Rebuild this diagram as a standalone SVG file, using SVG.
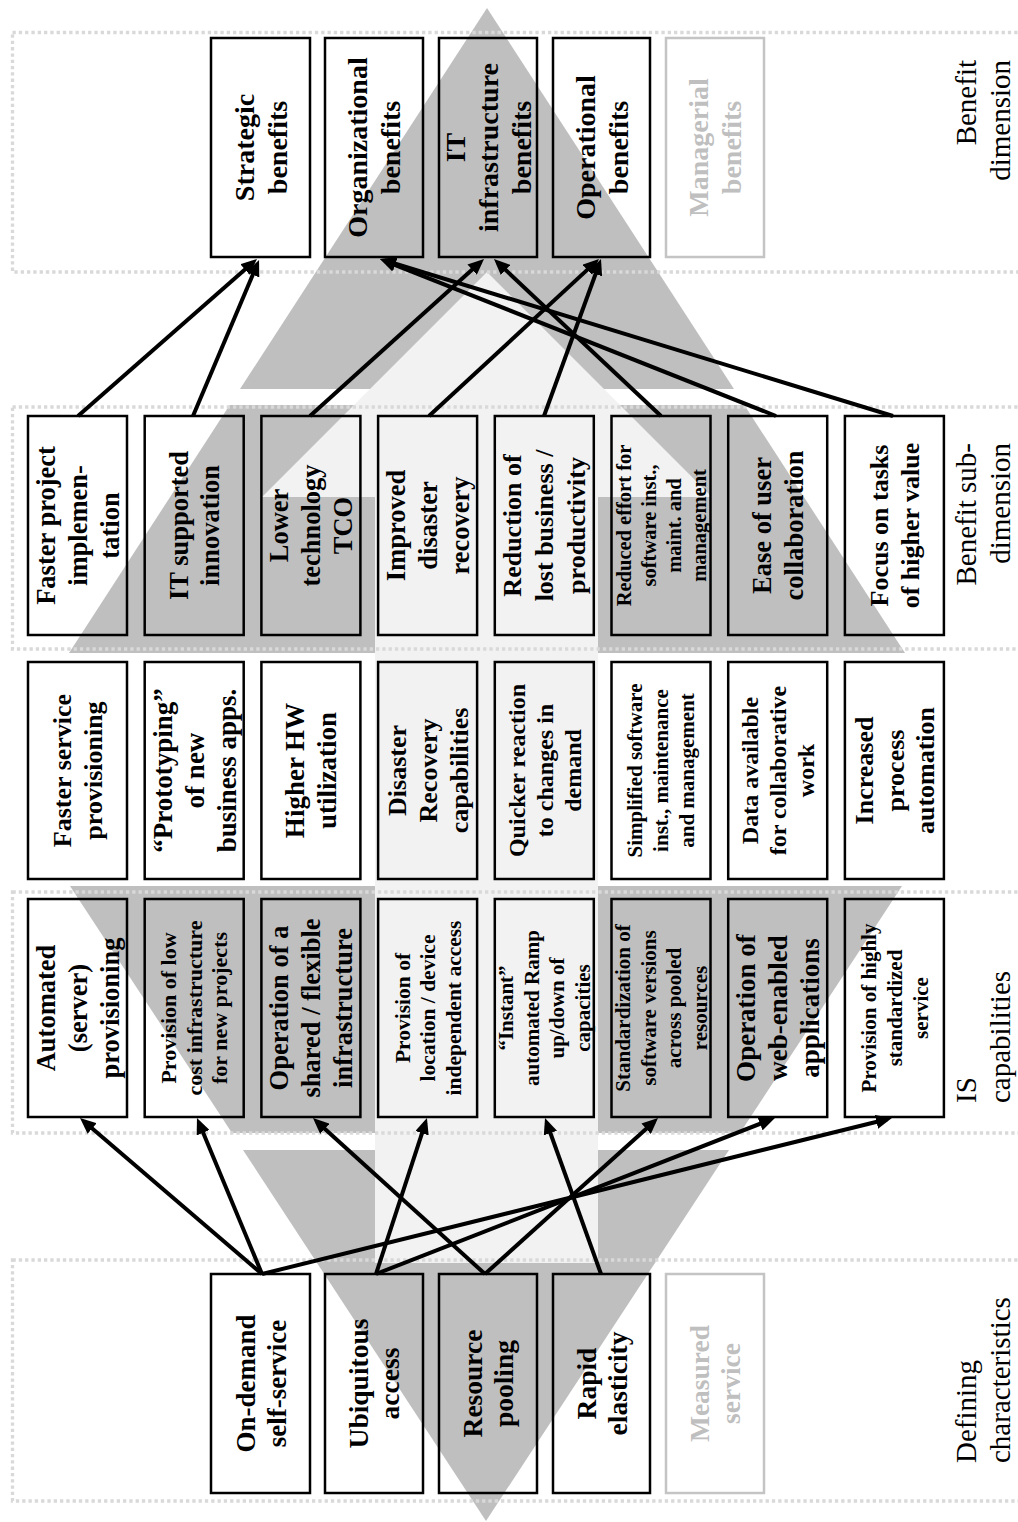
<svg xmlns="http://www.w3.org/2000/svg" width="1018" height="1522" viewBox="0 0 1018 1522">
<style>
.box{fill:none;stroke:#000;stroke-width:2.5}
.gbox{fill:none;stroke:#c4c4c4;stroke-width:2.5}
.nt{font-family:"Liberation Serif","Times New Roman",serif;font-weight:bold;fill:#000;text-anchor:middle}
.gt{fill:#bfbfbf}
.lbl{font-family:"Liberation Serif","Times New Roman",serif;font-size:29px;fill:#000}
.sec{fill:none;stroke:#d9d9d9;stroke-width:3.3;stroke-dasharray:3.3 3}
.cn{stroke:#000;stroke-width:4;fill:none;marker-end:url(#ah)}
.dark{fill:#bfbfbf}
.light{fill:#f2f2f2}
</style>
<defs>
<marker id="ah" markerUnits="userSpaceOnUse" markerWidth="16" markerHeight="14" refX="11" refY="7" orient="auto">
<path d="M0,0 L16,7 L0,14 z" fill="#000"/>
</marker>
</defs>
<rect x="0" y="0" width="1018" height="1522" fill="#fff"/>
<g id="background">
<polygon class="dark" points="487,8 734,389 240,389"/>
<polygon class="dark" points="229.7,405 744.3,405 905,653 69,653"/>
<polygon class="dark" points="70,886 902,886 740,1133 232,1133"/>
<polygon class="dark" points="243,1150 729,1150 486,1521"/>
<polygon class="light" points="487,272 712,497 598,497 598,1263 375,1263 375,497 262,497"/>
</g>
<g id="sections">
<rect class="sec" x="12.5" y="32.5" width="1020" height="239.5"/>
<rect class="sec" x="12.5" y="407" width="1020" height="242"/>
<rect class="sec" x="12.5" y="892" width="1020" height="241"/>
<rect class="sec" x="12.5" y="1260" width="1020" height="241"/>
</g>
<g id="labels">
<text class="lbl" text-anchor="end" transform="translate(0,60) rotate(-90)"><tspan x="0" y="976">Benefit</tspan><tspan x="0" y="1010">dimension</tspan></text>
<text class="lbl" text-anchor="end" transform="translate(0,443) rotate(-90)"><tspan x="0" y="976">Benefit sub-</tspan><tspan x="0" y="1010">dimension</tspan></text>
<text class="lbl" text-anchor="start" transform="translate(0,1103) rotate(-90)"><tspan x="0" y="976">IS</tspan><tspan x="0" y="1010">capabilities</tspan></text>
<text class="lbl" text-anchor="start" transform="translate(0,1463) rotate(-90)"><tspan x="0" y="976">Defining</tspan><tspan x="0" y="1010">characteristics</tspan></text>
</g>
<!-- Benefit dimension -->
<g id="strategic"><rect class="box" x="211" y="38" width="99" height="219"/>
<text class="nt" font-size="28" transform="translate(260.5,147.5) rotate(-90)"><tspan x="0" y="-6.7">Strategic</tspan><tspan x="0" y="26.3">benefits</tspan></text></g>
<g id="organizational"><rect class="box" x="325" y="38" width="98" height="219"/>
<text class="nt" font-size="28" transform="translate(374,147.5) rotate(-90)"><tspan x="0" y="-6.7">Organizational</tspan><tspan x="0" y="26.3">benefits</tspan></text></g>
<g id="itinfra"><rect class="box" x="439" y="38" width="98" height="219"/>
<text class="nt" font-size="28" transform="translate(488,147.5) rotate(-90)"><tspan x="0" y="-23.2">IT</tspan><tspan x="0" y="9.8">infrastructure</tspan><tspan x="0" y="42.8">benefits</tspan></text></g>
<g id="operational"><rect class="box" x="553" y="38" width="97" height="219"/>
<text class="nt" font-size="28" transform="translate(601.5,147.5) rotate(-90)"><tspan x="0" y="-6.7">Operational</tspan><tspan x="0" y="26.3">benefits</tspan></text></g>
<g id="managerial"><rect class="gbox" x="666" y="38" width="98" height="219"/>
<text class="nt gt" font-size="28" transform="translate(715,147.5) rotate(-90)"><tspan x="0" y="-6.7">Managerial</tspan><tspan x="0" y="26.3">benefits</tspan></text></g>
<!-- Benefit sub-dimension -->
<g id="fasterproject"><rect class="box" x="28" y="416" width="99" height="219"/>
<text class="nt" font-size="26.5" transform="translate(77.5,525.5) rotate(-90)"><tspan x="0" y="-22.7">Faster project</tspan><tspan x="0" y="9.3">implemen-</tspan><tspan x="0" y="41.3">tation</tspan></text></g>
<g id="itsupported"><rect class="box" x="144.7" y="416" width="99" height="219"/>
<text class="nt" font-size="26.5" transform="translate(194.2,525.5) rotate(-90)"><tspan x="0" y="-6.7">IT supported</tspan><tspan x="0" y="25.3">innovation</tspan></text></g>
<g id="lowertco"><rect class="box" x="261.4" y="416" width="99" height="219"/>
<text class="nt" font-size="26.5" transform="translate(310.9,525.5) rotate(-90)"><tspan x="0" y="-22.7">Lower</tspan><tspan x="0" y="9.3">technology</tspan><tspan x="0" y="41.3">TCO</tspan></text></g>
<g id="improveddr"><rect class="box" x="378.1" y="416" width="99" height="219"/>
<text class="nt" font-size="26.5" transform="translate(427.6,525.5) rotate(-90)"><tspan x="0" y="-22.7">Improved</tspan><tspan x="0" y="9.3">disaster</tspan><tspan x="0" y="41.3">recovery</tspan></text></g>
<g id="reduction"><rect class="box" x="494.8" y="416" width="99" height="219"/>
<text class="nt" font-size="26" transform="translate(544.3,525.5) rotate(-90)"><tspan x="0" y="-22.9">Reduction of</tspan><tspan x="0" y="9.1">lost business /</tspan><tspan x="0" y="41.1">productivity</tspan></text></g>
<g id="reducedeffort"><rect class="box" x="611.5" y="416" width="99" height="219"/>
<text class="nt" font-size="20.5" transform="translate(661,525.5) rotate(-90)"><tspan x="0" y="-30.3">Reduced effort for</tspan><tspan x="0" y="-5.3">software inst.,</tspan><tspan x="0" y="19.7">maint. and</tspan><tspan x="0" y="44.7">management</tspan></text></g>
<g id="easecollab"><rect class="box" x="728.2" y="416" width="99" height="219"/>
<text class="nt" font-size="26.5" transform="translate(777.7,525.5) rotate(-90)"><tspan x="0" y="-6.7">Ease of user</tspan><tspan x="0" y="25.3">collaboration</tspan></text></g>
<g id="focustasks"><rect class="box" x="844.9" y="416" width="99" height="219"/>
<text class="nt" font-size="26" transform="translate(894.4,525.5) rotate(-90)"><tspan x="0" y="-6.9">Focus on tasks</tspan><tspan x="0" y="25.1">of higher value</tspan></text></g>
<!-- Middle row -->
<g id="fasterservice"><rect class="box" x="28" y="662" width="99" height="217"/>
<text class="nt" font-size="26" transform="translate(77.5,770.5) rotate(-90)"><tspan x="0" y="-6.4">Faster service</tspan><tspan x="0" y="24.6">provisioning</tspan></text></g>
<g id="prototyping"><rect class="box" x="144.7" y="662" width="99" height="217"/>
<text class="nt" font-size="27" transform="translate(194.2,770.5) rotate(-90)"><tspan x="0" y="-22.5">“Prototyping”</tspan><tspan x="0" y="9.5">of new</tspan><tspan x="0" y="41.5">business apps.</tspan></text></g>
<g id="higherhw"><rect class="box" x="261.4" y="662" width="99" height="217"/>
<text class="nt" font-size="27" transform="translate(310.9,770.5) rotate(-90)"><tspan x="0" y="-6.5">Higher HW</tspan><tspan x="0" y="25.5">utilization</tspan></text></g>
<g id="drcap"><rect class="box" x="378.1" y="662" width="99" height="217"/>
<text class="nt" font-size="26" transform="translate(427.6,770.5) rotate(-90)"><tspan x="0" y="-21.9">Disaster</tspan><tspan x="0" y="9.1">Recovery</tspan><tspan x="0" y="40.1">capabilities</tspan></text></g>
<g id="quicker"><rect class="box" x="494.8" y="662" width="99" height="217"/>
<text class="nt" font-size="24" transform="translate(544.3,770.5) rotate(-90)"><tspan x="0" y="-19.6">Quicker reaction</tspan><tspan x="0" y="8.4">to changes in</tspan><tspan x="0" y="36.4">demand</tspan></text></g>
<g id="simplified"><rect class="box" x="611.5" y="662" width="99" height="217"/>
<text class="nt" font-size="21" transform="translate(661,770.5) rotate(-90)"><tspan x="0" y="-18.6">Simplified software</tspan><tspan x="0" y="7.4">inst., maintenance</tspan><tspan x="0" y="33.4">and management</tspan></text></g>
<g id="dataavail"><rect class="box" x="728.2" y="662" width="99" height="217"/>
<text class="nt" font-size="24" transform="translate(777.7,770.5) rotate(-90)"><tspan x="0" y="-19.6">Data available</tspan><tspan x="0" y="8.4">for collaborative</tspan><tspan x="0" y="36.4">work</tspan></text></g>
<g id="increased"><rect class="box" x="844.9" y="662" width="99" height="217"/>
<text class="nt" font-size="26" transform="translate(894.4,770.5) rotate(-90)"><tspan x="0" y="-21.9">Increased</tspan><tspan x="0" y="9.1">process</tspan><tspan x="0" y="40.1">automation</tspan></text></g>
<!-- IS capabilities -->
<g id="automated"><rect class="box" x="28" y="899" width="99" height="218"/>
<text class="nt" font-size="26.5" transform="translate(77.5,1008) rotate(-90)"><tspan x="0" y="-22.7">Automated</tspan><tspan x="0" y="9.3">(server)</tspan><tspan x="0" y="41.3">provisioning</tspan></text></g>
<g id="lowcost"><rect class="box" x="144.7" y="899" width="99" height="218"/>
<text class="nt" font-size="22" transform="translate(194.2,1008) rotate(-90)"><tspan x="0" y="-17.8">Provision of low</tspan><tspan x="0" y="7.7">cost infrastructure</tspan><tspan x="0" y="33.2">for new projects</tspan></text></g>
<g id="shared"><rect class="box" x="261.4" y="899" width="99" height="218"/>
<text class="nt" font-size="26.5" transform="translate(310.9,1008) rotate(-90)"><tspan x="0" y="-22.7">Operation of a</tspan><tspan x="0" y="9.3">shared / flexible</tspan><tspan x="0" y="41.3">infrastructure</tspan></text></g>
<g id="location"><rect class="box" x="378.1" y="899" width="99" height="218"/>
<text class="nt" font-size="21.5" transform="translate(427.6,1008) rotate(-90)"><tspan x="0" y="-18">Provision of</tspan><tspan x="0" y="7.5">location / device</tspan><tspan x="0" y="33">independent access</tspan></text></g>
<g id="instant"><rect class="box" x="494.8" y="899" width="99" height="218"/>
<text class="nt" font-size="21" transform="translate(544.3,1008) rotate(-90)"><tspan x="0" y="-30.9">“Instant”</tspan><tspan x="0" y="-5.4">automated Ramp</tspan><tspan x="0" y="20.1">up/down of</tspan><tspan x="0" y="45.6">capacities</tspan></text></g>
<g id="standardization"><rect class="box" x="611.5" y="899" width="99" height="218"/>
<text class="nt" font-size="21" transform="translate(661,1008) rotate(-90)"><tspan x="0" y="-30.9">Standardization of</tspan><tspan x="0" y="-5.4">software versions</tspan><tspan x="0" y="20.1">across pooled</tspan><tspan x="0" y="45.6">resources</tspan></text></g>
<g id="webenabled"><rect class="box" x="728.2" y="899" width="99" height="218"/>
<text class="nt" font-size="27" transform="translate(777.7,1008) rotate(-90)"><tspan x="0" y="-22.5">Operation of</tspan><tspan x="0" y="9.5">web-enabled</tspan><tspan x="0" y="41.5">applications</tspan></text></g>
<g id="highlystd"><rect class="box" x="844.9" y="899" width="99" height="218"/>
<text class="nt" font-size="21" transform="translate(894.4,1008) rotate(-90)"><tspan x="0" y="-18.6">Provision of highly</tspan><tspan x="0" y="7.4">standardized</tspan><tspan x="0" y="33.4">service</tspan></text></g>
<!-- Defining characteristics -->
<g id="ondemand"><rect class="box" x="211" y="1274" width="99" height="219"/>
<text class="nt" font-size="27" transform="translate(260.5,1383.5) rotate(-90)"><tspan x="0" y="-6">On-demand</tspan><tspan x="0" y="25">self-service</tspan></text></g>
<g id="ubiquitous"><rect class="box" x="325" y="1274" width="98" height="219"/>
<text class="nt" font-size="27.5" transform="translate(374,1383.5) rotate(-90)"><tspan x="0" y="-6">Ubiquitous</tspan><tspan x="0" y="25">access</tspan></text></g>
<g id="pooling"><rect class="box" x="439" y="1274" width="98" height="219"/>
<text class="nt" font-size="27.5" transform="translate(488,1383.5) rotate(-90)"><tspan x="0" y="-6">Resource</tspan><tspan x="0" y="25">pooling</tspan></text></g>
<g id="elasticity"><rect class="box" x="553" y="1274" width="97" height="219"/>
<text class="nt" font-size="27.5" transform="translate(601.5,1383.5) rotate(-90)"><tspan x="0" y="-6">Rapid</tspan><tspan x="0" y="25">elasticity</tspan></text></g>
<g id="measured"><rect class="gbox" x="666" y="1274" width="98" height="219"/>
<text class="nt gt" font-size="27.5" transform="translate(715,1383.5) rotate(-90)"><tspan x="0" y="-6">Measured</tspan><tspan x="0" y="25">service</tspan></text></g>
<g id="connectors">
<line class="cn" x1="78" y1="416" x2="253.2" y2="262.3"/>
<line class="cn" x1="193" y1="416" x2="257.1" y2="264.6"/>
<line class="cn" x1="310" y1="416" x2="480.3" y2="262.3"/>
<line class="cn" x1="429" y1="416" x2="595.3" y2="262.4"/>
<line class="cn" x1="544" y1="416" x2="599.3" y2="263.7"/>
<line class="cn" x1="661" y1="416" x2="497.6" y2="262.4"/>
<line class="cn" x1="776" y1="416" x2="384.6" y2="260.8"/>
<line class="cn" x1="893" y1="416" x2="384.8" y2="260.5"/>
<line class="cn" x1="262" y1="1274" x2="83.8" y2="1121.3"/>
<line class="cn" x1="262" y1="1274" x2="198.9" y2="1122.6"/>
<line class="cn" x1="262" y1="1274" x2="887.1" y2="1119.2"/>
<line class="cn" x1="376" y1="1274" x2="425.4" y2="1122.8"/>
<line class="cn" x1="376" y1="1274" x2="770.3" y2="1119.8"/>
<line class="cn" x1="485" y1="1274" x2="316.7" y2="1121.4"/>
<line class="cn" x1="485" y1="1274" x2="654.3" y2="1121.4"/>
<line class="cn" x1="601" y1="1274" x2="546.7" y2="1122.7"/>
</g>
</svg>
